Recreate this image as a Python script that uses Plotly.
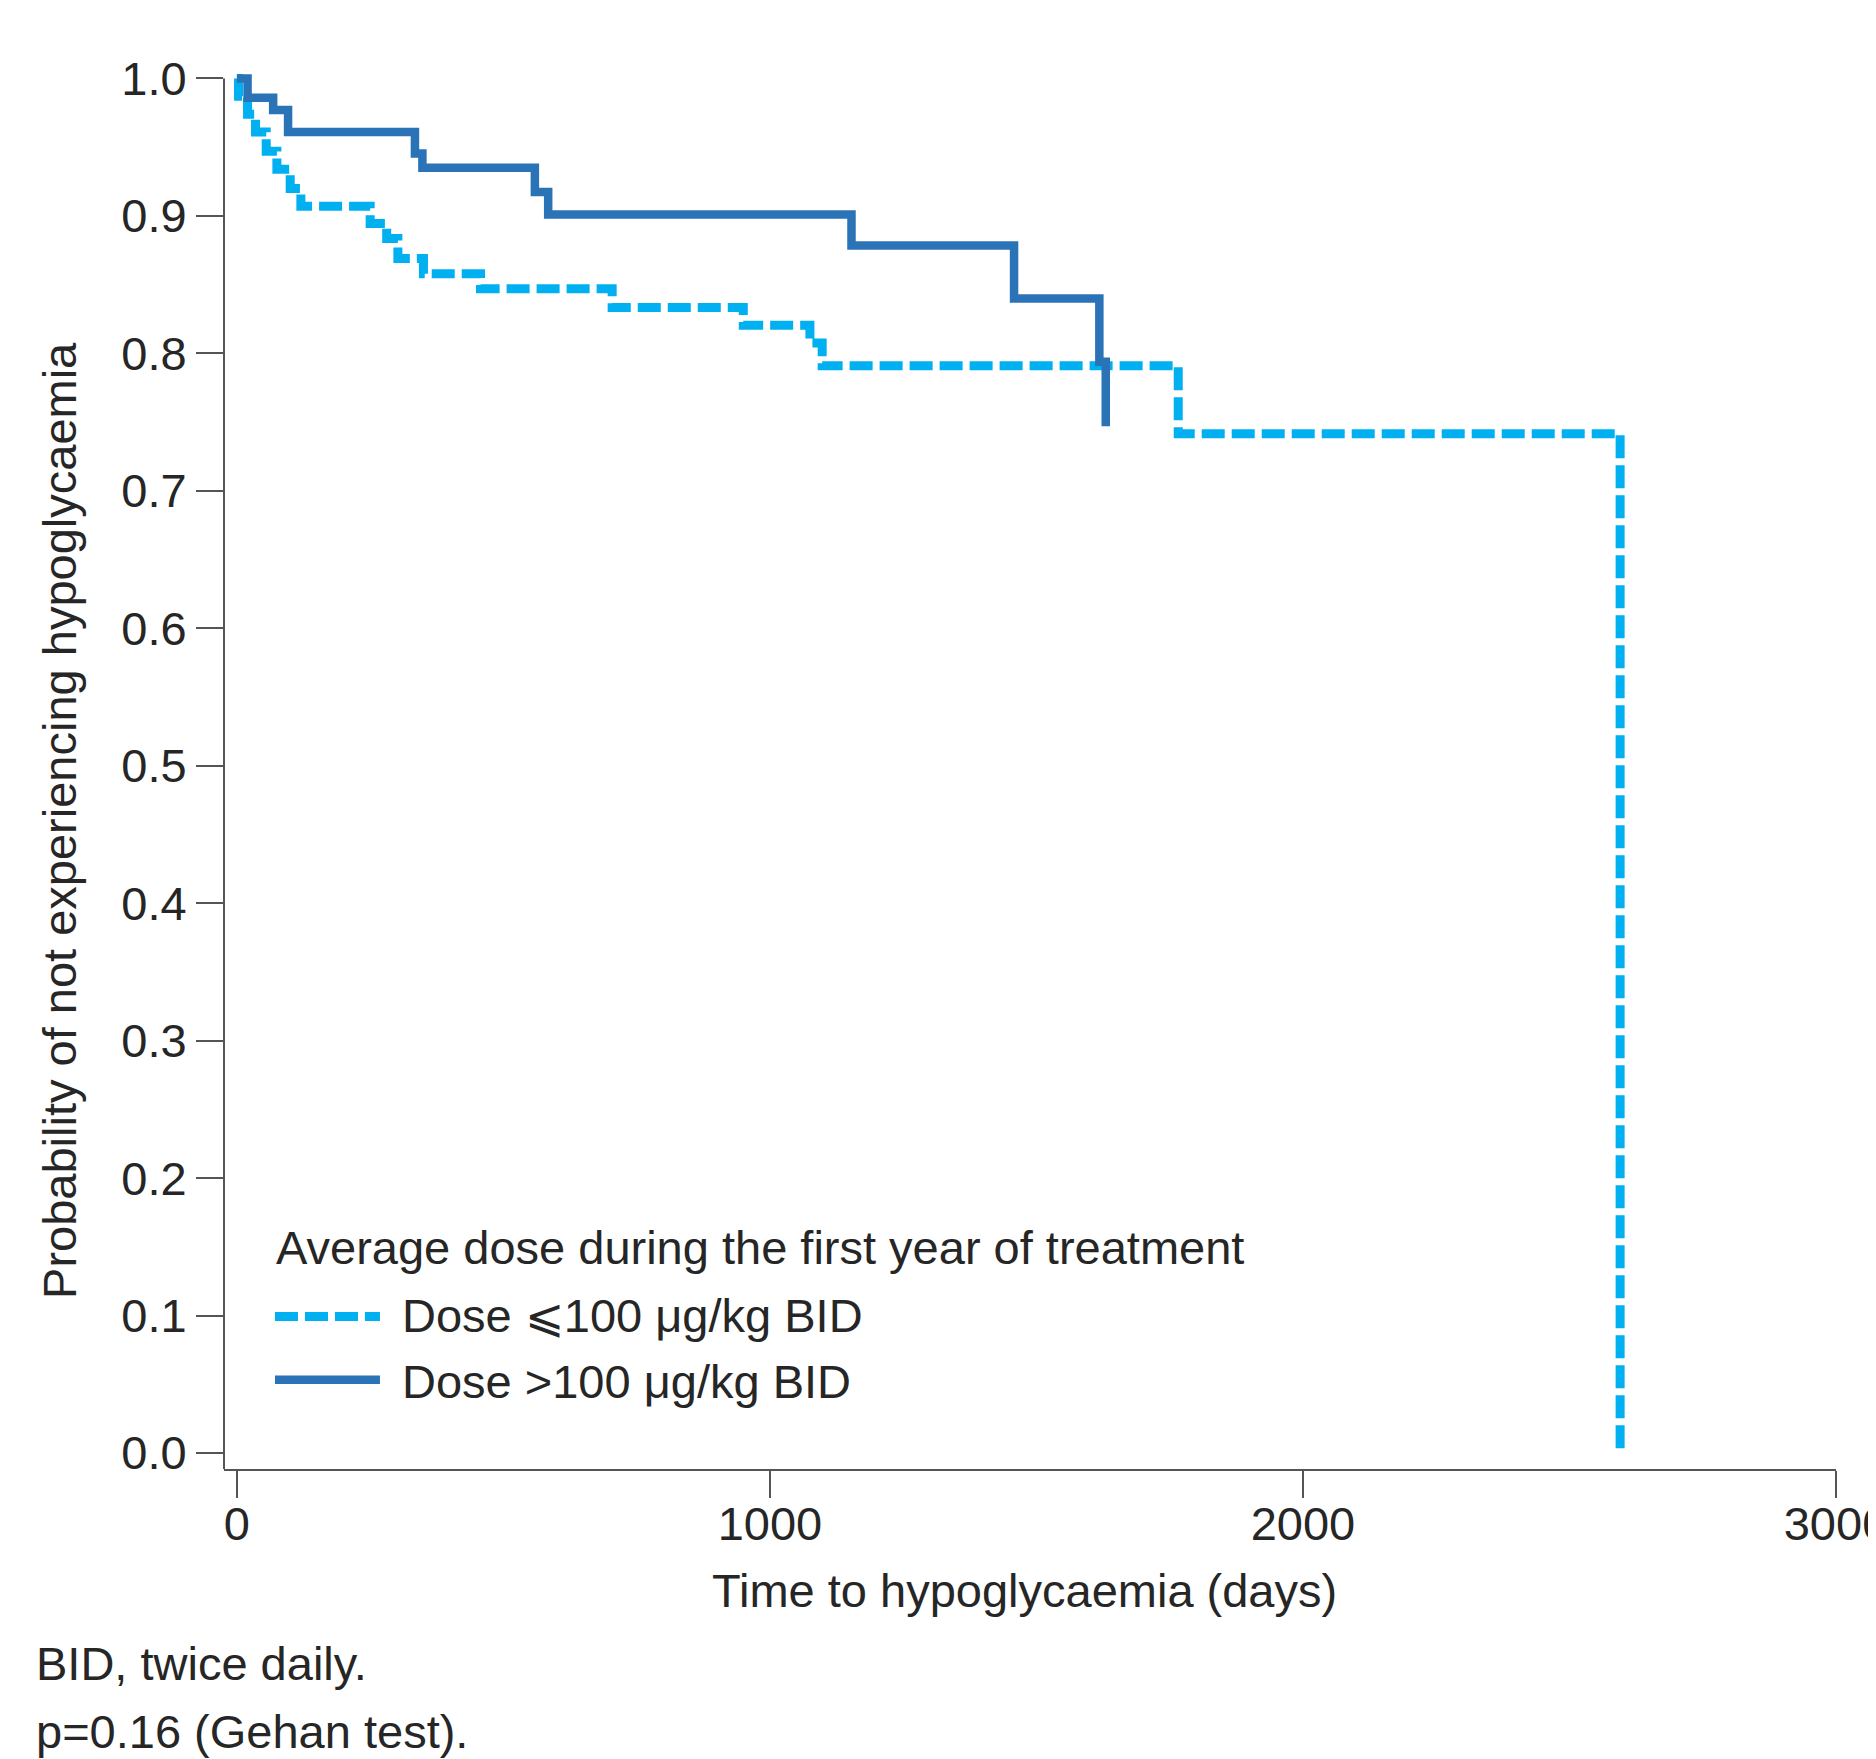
import plotly.graph_objects as go

# ---- data ----
low_days = [0, 3, 20, 35, 55, 75, 100, 120, 250, 281, 302, 350, 457, 704, 950, 1075, 1098, 1766, 2595]
low_surv = [1.0, 0.987, 0.974, 0.961, 0.947, 0.934, 0.920, 0.907, 0.8945, 0.8836, 0.869, 0.858,
            0.847, 0.8333, 0.8205, 0.8076, 0.791, 0.7416, 0.0]

high_days = [0, 20, 68, 96, 334, 348, 559, 584, 1153, 1458, 1618, 1630]
high_surv = [1.0, 0.986, 0.977, 0.961, 0.9454, 0.935, 0.9175, 0.901, 0.8785, 0.840, 0.794, 0.747]

series_names = ["Dose ⩽100 μg/kg BID", "Dose >100 μg/kg BID"]
legend_title = "Average dose during the first year of treatment"
x_title = "Time to hypoglycaemia (days)"
y_title = "Probability of not experiencing hypoglycaemia"
footnotes = ["BID, twice daily.", "p=0.16 (Gehan test)."]
x_ticks = [0, 1000, 2000, 3000]
y_ticks = [0.0, 0.1, 0.2, 0.3, 0.4, 0.5, 0.6, 0.7, 0.8, 0.9, 1.0]

# ---- styling ----
OFF = 8                       # default page body margin
W, H = 1876 - OFF, 1759 - OFF
FONT = "Liberation Sans, Arial, Helvetica, sans-serif"
TXT = "#262626"
AX = "#555555"
C_LOW = "#00B0F0"
C_HIGH = "#2B73B7"
DASH = "23px,7px"
FS = 47

# plot box in page pixels
L, R = 224.0, 1836.4
T, B = 61.8, 1469.3
x_range = [-24.2, 3000]
y_range = [-0.01164, 1.012]

def px_x(p):
    return (p - L) / (R - L)

def px_y(p):
    return (B - p) / (B - T)

fig = go.Figure()
fig.add_trace(go.Scatter(x=low_days, y=low_surv, mode="lines", name=series_names[0],
                         line=dict(shape="hv", color=C_LOW, width=9, dash=DASH),
                         showlegend=False))
fig.add_trace(go.Scatter(x=high_days, y=high_surv, mode="lines", name=series_names[1],
                         line=dict(shape="hv", color=C_HIGH, width=8.5),
                         showlegend=False))

shapes = [
    dict(type="line", xref="paper", yref="y", x0=0, x1=0, y0=y_range[0], y1=1.0,
         line=dict(color=AX, width=2)),
    dict(type="line", xref="paper", yref="paper", x0=px_x(275), x1=px_x(380),
         y0=px_y(1316.7), y1=px_y(1316.7), line=dict(color=C_LOW, width=9, dash=DASH)),
    dict(type="line", xref="paper", yref="paper", x0=px_x(275), x1=px_x(380),
         y0=px_y(1380), y1=px_y(1380), line=dict(color=C_HIGH, width=8.5)),
]

def ann(text, x, y, xanchor="left", angle=0):
    return dict(text=text, xref="paper", yref="paper", x=px_x(x), y=px_y(y), textangle=angle,
                xanchor=xanchor, yanchor="middle", showarrow=False,
                font=dict(size=FS, color=TXT, family=FONT))

annotations = [
    ann(legend_title, 274, 1248),
    ann(series_names[0], 400, 1316),
    ann(series_names[1], 400, 1382),
    ann(x_title, 1025, 1591, "center"),
    ann(y_title, 60, 821, "center", -90),
    ann(footnotes[0], 34, 1664),
    ann(footnotes[1], 34, 1732),
]

fig.update_layout(
    width=W, height=H,
    margin=dict(l=L - OFF, r=W - (R - OFF), t=T - OFF, b=H - (B - OFF), autoexpand=False),
    paper_bgcolor="white", plot_bgcolor="white",
    font=dict(family=FONT, size=FS, color=TXT),
    shapes=shapes, annotations=annotations,
    xaxis=dict(range=x_range, tickvals=x_ticks, ticktext=[str(v) for v in x_ticks],
               showgrid=False, zeroline=False, showline=True, linecolor=AX, linewidth=2,
               ticks="outside", ticklen=27, tickwidth=2, tickcolor=AX,
               ticklabeloverflow="allow", ticklabelstandoff=-14,
               tickfont=dict(size=FS, color=TXT, family=FONT)),
    yaxis=dict(range=y_range, tickvals=y_ticks, ticktext=[f"{v:.1f}" for v in y_ticks],
               showgrid=False, zeroline=False, showline=False,
               ticks="outside", ticklen=27, tickwidth=2, tickcolor=AX,
               tickfont=dict(size=FS, color=TXT, family=FONT)),
    showlegend=False,
)

fig.write_html("out.html")
